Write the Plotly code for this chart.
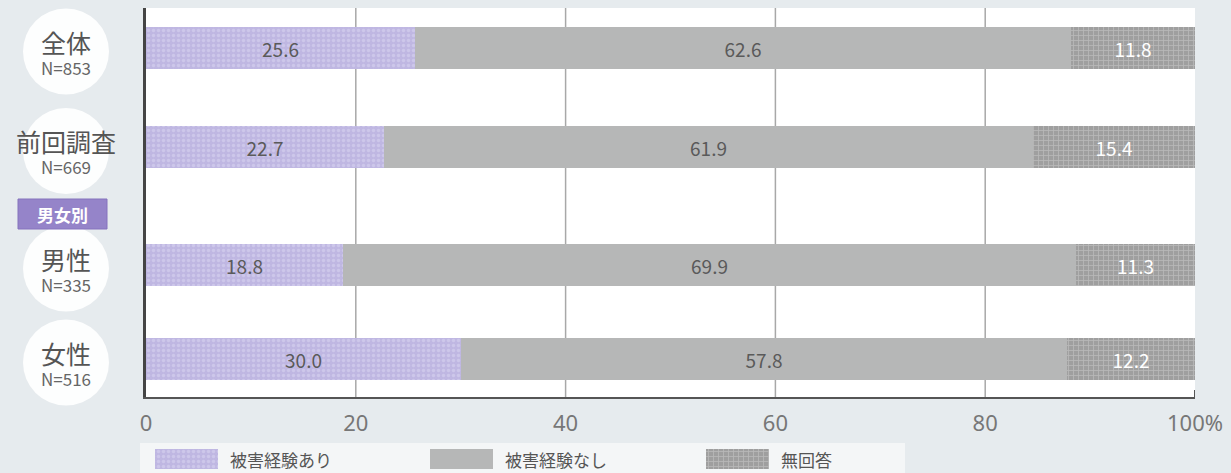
import plotly.graph_objects as go

# ---------------- data ----------------
categories = ["全体", "前回調査", "男性", "女性"]
sample_sizes = ["N=853", "N=669", "N=335", "N=516"]
series_names = ["被害経験あり", "被害経験なし", "無回答"]
yes_values = [25.6, 22.7, 18.8, 30.0]
no_values = [62.6, 61.9, 69.9, 57.8]
na_values = [11.8, 15.4, 11.3, 12.2]
tick_values = [0, 20, 40, 60, 80, 100]
tick_labels = ["0", "20", "40", "60", "80", "100%"]
group_label = "男女別"

# ---------------- layout helpers ----------------
W, H = 1231, 473
PL, PR, PT, PB = 146, 1195, 8, 397          # plot area in pixels
row_pos = [0, 0.995, 2.17, 3.11]            # vertical slot of each row (100 px per unit)
y_range = [(PB - 47.5) / 100, (PT - 47.5) / 100]


def px_x(px):
    return (px - PL) / (PR - PL)


def px_y(py):
    return (py - 47.5) / 100


FONT = "Noto Sans CJK JP, Noto Sans, sans-serif"
TXT = "#5a5a5a"

purple = dict(color="#c3bce5", pattern=dict(shape=".", fgcolor="#dcd8f1", bgcolor="#bfb7e2",
                                            size=5, solidity=0.35), line=dict(width=0))
gray = dict(color="#b6b7b7", line=dict(width=0))
hatch = dict(color="#a3a3a3", pattern=dict(shape="+", fgcolor="#d2d2d2", bgcolor="#9f9f9f",
                                           size=5, solidity=0.3), line=dict(width=0))
markers = [purple, gray, hatch]
text_colors = [TXT, TXT, "#ffffff"]
values = [yes_values, no_values, na_values]

fig = go.Figure()
for name, vals, mk, tc in zip(series_names, values, markers, text_colors):
    fig.add_trace(go.Bar(
        x=vals, y=row_pos, orientation="h", name=name, marker=mk, width=0.42,
        text=[f"{v:.1f}" for v in vals], textposition="inside", insidetextanchor="middle",
        textfont=dict(family=FONT, size=19, color=tc), showlegend=False,
        xaxis="x", yaxis="y", hoverinfo="skip",
    ))

# legend swatches drawn as bars on a tiny helper axis
legend_starts = [155, 430, 706]
for name, mk, x0 in zip(series_names, markers, legend_starts):
    fig.add_trace(go.Bar(
        x=[63], base=[x0], y=[0.5], orientation="h", marker=mk, width=1,
        xaxis="x2", yaxis="y2", showlegend=False, hoverinfo="skip",
    ))

shapes = []
annotations = []
plot_bottom = (H - PB) / (H - PT)
# white plot-area background (first so grid lines sit above it)
shapes.append(dict(type="rect", xref="x", yref="paper", x0=0, x1=100, y0=plot_bottom, y1=1,
                   fillcolor="#ffffff", line=dict(width=0), layer="below"))
# vertical grid lines
for v in tick_values[1:-1]:
    shapes.append(dict(type="line", xref="x", yref="paper", x0=v, x1=v, y0=plot_bottom, y1=1,
                       line=dict(color="#a8a8a8", width=1.5), layer="below"))
# right end tick on bottom axis
shapes.append(dict(type="line", xref="x", yref="y", x0=100, x1=100, y0=px_y(PB), y1=px_y(PB - 7),
                   line=dict(color="#555555", width=2)))

# category label circles + texts
for cat, n, yp in zip(categories, sample_sizes, row_pos):
    cy = yp + 0.04
    shapes.append(dict(type="circle", xref="paper", yref="paper",
                       x0=px_x(66 - 43), x1=px_x(66 + 43),
                       y0=(H - (47.5 + cy * 100 + 43)) / (H - PT), y1=(H - (47.5 + cy * 100 - 43)) / (H - PT),
                       fillcolor="rgba(255,255,255,0.92)", line=dict(width=0), layer="below"))
    annotations.append(dict(xref="paper", yref="y", x=px_x(66), y=yp + 0.04,
                            text=f"<span style='font-size:25px;color:#555555'>{cat}</span><br>{n}",
                            showarrow=False, font=dict(family=FONT, size=17, color="#666666"),
                            xanchor="center", yanchor="middle"))

# group label box
shapes.append(dict(type="rect", xref="paper", yref="y", x0=px_x(18), x1=px_x(107), y0=px_y(199), y1=px_y(229),
                   fillcolor="#9584c9", line=dict(color="#8573bd", width=1)))
annotations.append(dict(xref="paper", yref="y", x=px_x(62.5), y=px_y(214), text=f"<b>{group_label}</b>",
                        showarrow=False, font=dict(family=FONT, size=17, color="#ffffff"),
                        xanchor="center", yanchor="middle"))

# legend background strip and texts
shapes.append(dict(type="rect", xref="paper", yref="paper", x0=px_x(140), x1=px_x(905), y0=0,
                   y1=(H - 443) / (H - PT), fillcolor="rgba(255,255,255,0.55)", line=dict(width=0), layer="below"))
for name, x0 in zip(series_names, legend_starts):
    annotations.append(dict(xref="paper", yref="paper", x=px_x(x0 + 73), y=(H - 459) / (H - PT), text=name,
                            showarrow=False, font=dict(family=FONT, size=17, color="#555555"),
                            xanchor="left", yanchor="middle"))

fig.update_layout(
    width=W, height=H,
    margin=dict(l=PL, r=W - PR, t=PT, b=0),
    paper_bgcolor="#e6ebee", plot_bgcolor="rgba(0,0,0,0)",
    barmode="stack", bargap=0,
    shapes=shapes, annotations=annotations,
    xaxis=dict(domain=[0, 1], range=[0, 100], tickvals=tick_values, ticktext=tick_labels,
               showgrid=False, zeroline=False, showline=True, linecolor="#555555", linewidth=2,
               ticks="", ticklabelstandoff=6, anchor="y",
               tickfont=dict(family="Noto Sans, sans-serif", size=22, color="#777777")),
    yaxis=dict(domain=[plot_bottom, 1], range=y_range, showticklabels=False, showgrid=False,
               zeroline=False, showline=True, linecolor="#454545", linewidth=2.5, ticks="", anchor="x"),
    xaxis2=dict(domain=[0, 1], range=[PL, PR], visible=False, anchor="y2"),
    yaxis2=dict(domain=[(H - 469) / (H - PT), (H - 449) / (H - PT)], range=[0, 1], visible=False, anchor="x2"),
)

fig.write_html("out.html")
